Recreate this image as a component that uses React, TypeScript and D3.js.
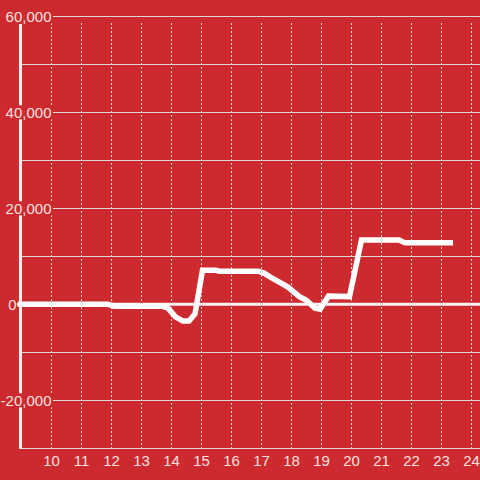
import React from "react";
import * as d3 from "d3";

const hours: number[] = [8.9, 11.9, 12.1, 13.7, 13.9, 14.15, 14.4, 14.6, 14.8, 15.05, 15.5, 15.6, 16.9, 17.1, 17.3, 17.9, 18.3, 18.5, 18.8, 18.97, 19.25, 19.95, 20.35, 21.6, 21.8, 23.4];
const values: number[] = [0, 0, -400, -400, -800, -2600, -3500, -3500, -2000, 7100, 7100, 6900, 6900, 6500, 5700, 3600, 1500, 900, -800, -1000, 1700, 1600, 13400, 13400, 12800, 12800];
const xTicks: number[] = [10, 11, 12, 13, 14, 15, 16, 17, 18, 19, 20, 21, 22, 23, 24];
const yGrid: number[] = [-30000, -20000, -10000, 0, 10000, 20000, 30000, 40000, 50000, 60000];
const yLabels: number[] = [60000, 40000, 20000, 0, -20000];

const W = 480;
const H = 480;
const BG = "#CC2A2E";
const TXT = "#F5E0E0";
const GRID = "#DCD6D6";

export default function App() {
  const x = d3.scaleLinear().domain([9, 24.3]).range([21, 480]);
  const y = d3.scaleLinear().domain([-30000, 60000]).range([448.3, 16.3]);
  const pts = hours.map((h, i) => [h, values[i]] as [number, number]);
  const line = d3
    .line<[number, number]>()
    .x((d) => x(d[0]))
    .y((d) => y(d[1]));
  const fmt = d3.format(",");
  const font = "'Liberation Sans', Arial, sans-serif";

  return (
    <svg
      width={W}
      height={H}
      style={{ position: "absolute", left: 0, top: 0, display: "block" }}
    >
      <rect x={0} y={0} width={W} height={H} fill={BG} />
      {/* vertical dashed grid */}
      {xTicks.map((t) => (
        <line
          key={"vx" + t}
          x1={x(t) + 0.5}
          x2={x(t) + 0.5}
          y1={23}
          y2={y(-30000)}
          stroke={GRID}
          strokeWidth={1}
          strokeDasharray="2,2"
        />
      ))}
      {/* horizontal grid */}
      {yGrid.map((v) => (
        <line
          key={"hy" + v}
          x1={20}
          x2={W}
          y1={Math.round(y(v)) + 0.5}
          y2={Math.round(y(v)) + 0.5}
          stroke={GRID}
          strokeWidth={1}
        />
      ))}
      {/* y axis line */}
      <line x1={20.5} x2={20.5} y1={24} y2={y(-30000) + 0.5} stroke="#F3F0F0" strokeWidth={3} />
      {/* zero line */}
      <line x1={17} x2={W} y1={y(0)} y2={y(0)} stroke="#F6F2F2" strokeWidth={3} />
      {/* y labels with backgrounds */}
      {yLabels.map((v) => {
        const yy = y(v);
        const isZero = v === 0;
        return (
          <g key={"yl" + v}>
            {!isZero && <rect x={0} y={yy - 7} width={53} height={14} fill={BG} />}
            <text
              x={isZero ? 16.5 : 51.5}
              y={yy + 5.5}
              textAnchor="end"
              fill={TXT}
              fontSize={15}
              fontFamily={font}
            >
              {fmt(v).replace("−", "-")}
            </text>
          </g>
        );
      })}
      {/* x labels */}
      {xTicks.map((t) => (
        <text
          key={"xl" + t}
          x={x(t) + 0.5}
          y={466}
          textAnchor="middle"
          fill={TXT}
          fontSize={15}
          fontFamily={font}
        >
          {t}
        </text>
      ))}
      {/* data line */}
      <path
        d={line(pts) || ""}
        fill="none"
        stroke="#FFFFFF"
        strokeWidth={5.5}
        strokeLinejoin="miter"
        strokeLinecap="butt"
      />
    </svg>
  );
}
